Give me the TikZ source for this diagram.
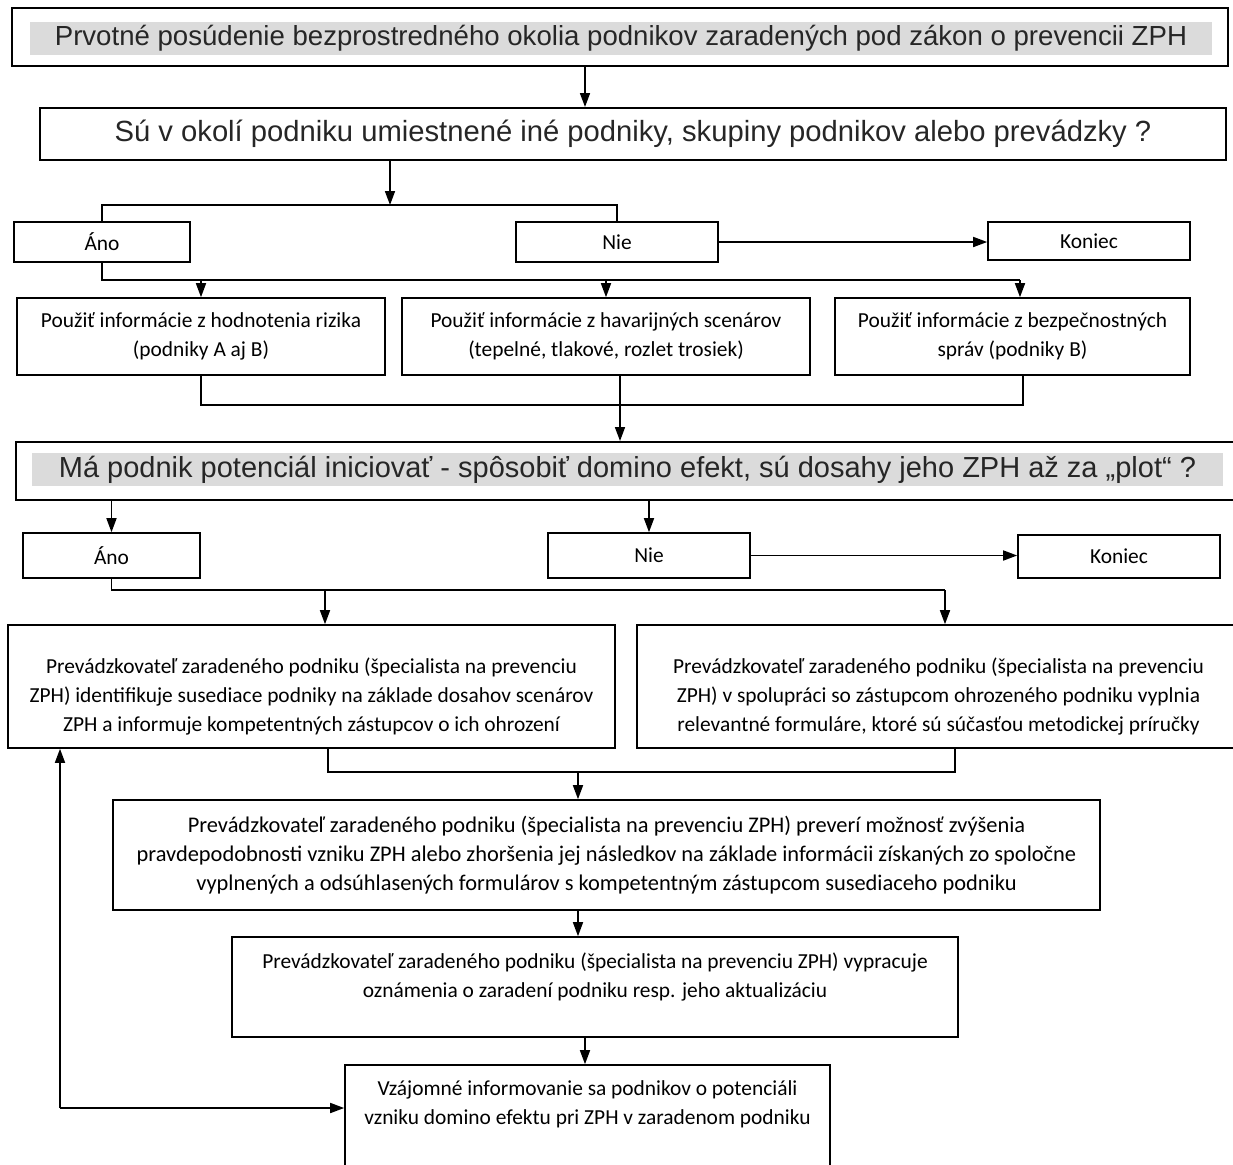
\documentclass[tikz,border=0pt]{standalone}
\usepackage{fontspec}
\setmainfont{Carlito}
\newfontfamily\arialfont{Liberation Sans}
\usetikzlibrary{arrows.meta,positioning,calc}

\tikzset{
 box/.style={draw,line width=0.8pt,rectangle,inner sep=0pt,align=center,font=\fontsize{10.7}{14.5}\selectfont},
 frame/.style={draw,line width=1pt,rectangle,inner sep=0pt},
 band/.style={fill=black!14,inner sep=0pt,text=black!85},
 qtext/.style={text=black!85},
 arr/.style={-{Triangle[length=7pt,width=5pt]},line width=0.8pt},
 con/.style={line width=0.8pt},
}

\begin{document}
\begin{tikzpicture}[x=0.5pt,y=-0.5pt]
\clip (0,0) rectangle (1233,1164);
\fill[white] (0,0) rectangle (1233,1164);
% ---------- first question
\node[frame,minimum width=608pt,minimum height=29pt] (prv) at (620,37){};
\node[band,font=\arialfont\fontsize{13.8}{16}\selectfont,minimum width=591pt,minimum height=16.5pt] (prvt) at (621,38.5){Prvotné posúdenie bezprostredného okolia podnikov zaradených pod zákon o prevencii ZPH};
\node[frame,qtext,font=\arialfont\fontsize{14.6}{16}\selectfont,minimum width=593pt,minimum height=26pt] (su) at (633,134){Sú v okolí podniku umiestnené iné podniky, skupiny podnikov alebo prevádzky ?};
\draw[arr] (585,0 |- prv.south) -- (585,0 |- su.north);
% ---------- yes / no
\node[box,minimum width=88pt,minimum height=20pt] (ano1) at (102,242){Áno};
\node[box,minimum width=101pt,minimum height=20pt] (nie1) at (617,242){Nie};
\node[box,minimum width=101pt,minimum height=19pt] (kon1) at (1089,241){Koniec};
\coordinate (j1) at (390,205);
\draw[arr] (390,0 |- su.south) -- (j1);
\draw[con] (ano1.north) |- (j1) -| (nie1.north);
\draw[arr] (nie1.east) -- (nie1.east -| kon1.west);
% ---------- sources of information
\node[box,minimum width=184pt,minimum height=38.5pt] (riz) at (201,336.5){Použiť informácie z hodnotenia rizika\\(podniky A aj B)};
\node[box,minimum width=204pt,minimum height=38.5pt] (hav) at (606,336.5){Použiť informácie z havarijných scenárov\\(tepelné, tlakové, rozlet trosiek)};
\node[box,minimum width=177.5pt,minimum height=38.5pt] (bez) at (1012.5,336.5){Použiť informácie z bezpečnostných\\správ (podniky B)};
\coordinate (j2) at (1020,280);
\draw[con] (ano1.south) |- (j2);
\draw[arr] (riz.north |- j2) -- (riz.north);
\draw[arr] (hav.north |- j2) -- (hav.north);
\draw[arr] (j2) -- (j2 |- bez.north);
\coordinate (j3) at (1023,405);
\draw[con] (riz.south) |- (j3) -- (j3 |- bez.south);
\draw[con] (620,0 |- hav.south) -- (620,405);
% ---------- second question
\node[frame,minimum width=614.5pt,minimum height=29pt] (ma) at (630.5,471){};
\node[band,font=\arialfont\fontsize{14.5}{16}\selectfont,minimum width=595.5pt,minimum height=16.5pt] (mat) at (627.5,469.5){Má podnik potenciál iniciovať - spôsobiť domino efekt, sú dosahy jeho ZPH až za „plot“ ?};
\draw[arr] (620,405) -- (620,0 |- ma.north);
\node[box,minimum width=88.5pt,minimum height=22.5pt] (ano2) at (111.5,555.5){Áno};
\node[box,minimum width=101pt,minimum height=22.5pt] (nie2) at (649,555.5){Nie};
\node[box,minimum width=101pt,minimum height=21.5pt] (kon2) at (1119,556.5){Koniec};
\draw[arr] (ano2.north |- ma.south) -- (ano2.north);
\draw[arr] (nie2.north |- ma.south) -- (nie2.north);
\draw[arr] (nie2.east) -- (nie2.east -| kon2.west);
% ---------- operator steps
\node[box,minimum width=303.5pt,minimum height=61.5pt] (ident) at (311.5,686.5){\mbox{}\\[3pt]Prevádzkovateľ zaradeného podniku (špecialista na prevenciu\\ZPH) identifikuje susediace podniky na základe dosahov scenárov\\ZPH a informuje kompetentných zástupcov o ich ohrození};
\node[box,minimum width=301.5pt,minimum height=61.5pt] (spol) at (938.5,686.5){\mbox{}\\[3pt]Prevádzkovateľ zaradeného podniku (špecialista na prevenciu\\ZPH) v spolupráci so zástupcom ohrozeného podniku vyplnia\\relevantné formuláre, ktoré sú súčasťou metodickej príručky};
\coordinate (j4) at (945,590);
\draw[con] (ano2.south) |- (j4);
\draw[arr] (325,590) -- (325,0 |- ident.north);
\draw[arr] (j4) -- (j4 |- spol.north);
\node[box,font=\fontsize{11.2}{14.5}\selectfont,minimum width=493.5pt,minimum height=55pt] (over) at (606.5,855){Prevádzkovateľ zaradeného podniku (špecialista na prevenciu ZPH) preverí možnosť zvýšenia\\pravdepodobnosti vzniku ZPH alebo zhoršenia jej následkov na základe informácii získaných zo spoločne\\vyplnených a odsúhlasených formulárov s kompetentným zástupcom susediaceho podniku};
\coordinate (j5) at (955,772);
\draw[con] (328,0 |- ident.south) |- (j5) -- (j5 |- spol.south);
\draw[arr] (578,772) -- (578,0 |- over.north);
\node[box,minimum width=363pt,minimum height=50pt] (ozn) at (595,987){Prevádzkovateľ zaradeného podniku (špecialista na prevenciu ZPH) vypracuje\\oznámenia o zaradení podniku resp. jeho aktualizáciu\\[-2.5pt]};
\draw[arr] (578,0 |- over.south) -- (578,0 |- ozn.north);
\node[box,minimum width=242.5pt,minimum height=57.5pt] (vzaj) at (587.5,1122.5){Vzájomné informovanie sa podnikov o potenciáli\\vzniku domino efektu pri ZPH v zaradenom podniku\\[5.5pt]};
\draw[arr] (585,0 |- ozn.south) -- (585,0 |- vzaj.north);
% ---------- feedback
\coordinate (fb) at (60,1108);
\draw[arr] (fb) -- (fb -| vzaj.west);
\draw[arr] (fb) -- (fb |- ident.south);
\end{tikzpicture}
\end{document}
